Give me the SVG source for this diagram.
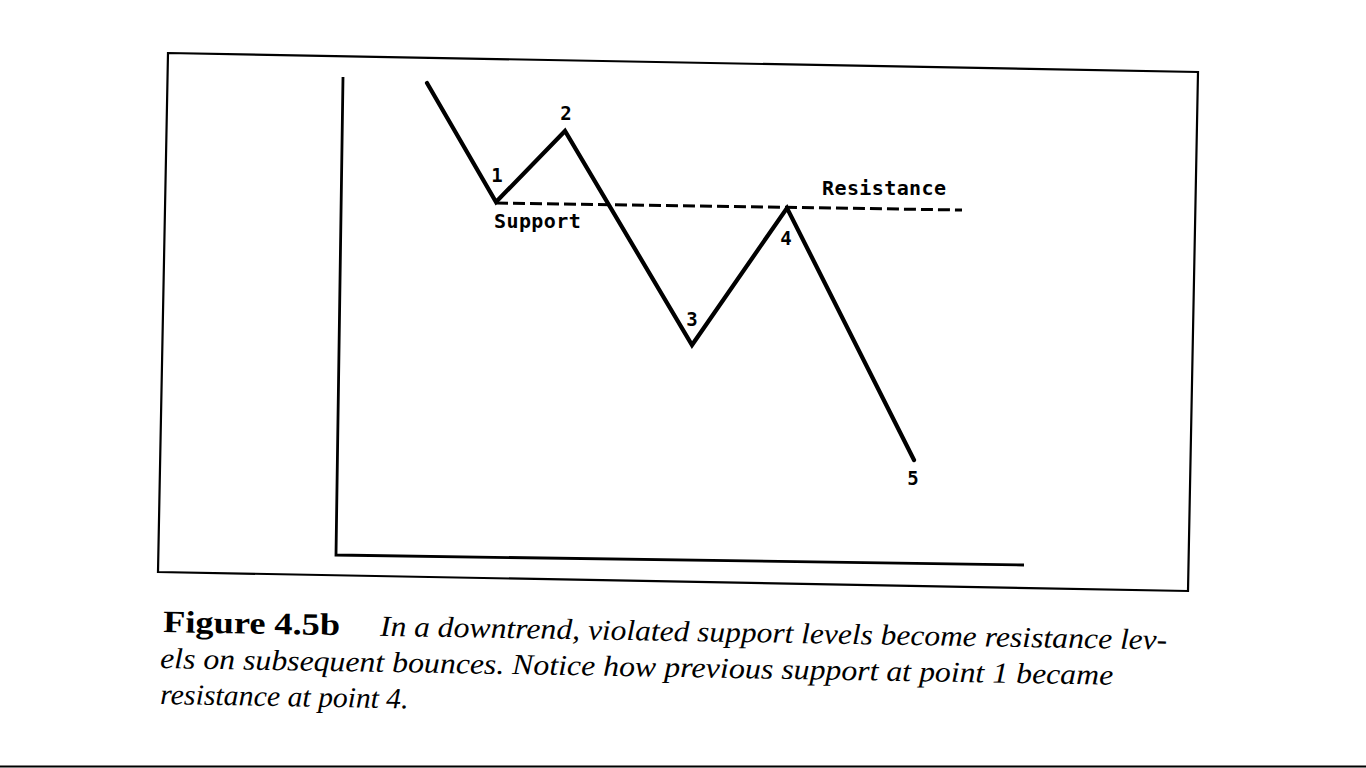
<svg xmlns="http://www.w3.org/2000/svg" width="1366" height="768" viewBox="0 0 1366 768">
<style>
.frame{fill:none;stroke:#000;stroke-width:2.2;stroke-linejoin:miter}
.axis{fill:none;stroke:#000;stroke-width:2.8;stroke-linecap:butt}
.price{fill:none;stroke:#000;stroke-width:4.2;stroke-linejoin:miter;stroke-linecap:round}
.level{fill:none;stroke:#000;stroke-width:3;stroke-dasharray:12 5}
.lbl{font-family:"DejaVu Sans Mono","Liberation Mono",monospace;font-size:20px;font-weight:bold;fill:#000;letter-spacing:0.4px}
.num{font-family:"DejaVu Sans Mono","Liberation Mono",monospace;font-size:19px;font-weight:bold;fill:#000;text-anchor:middle}
.capb{font-family:"Liberation Serif",serif;font-size:31px;font-weight:bold;fill:#000}
.capi{font-family:"Liberation Serif",serif;font-size:29px;font-style:italic;fill:#000}
</style>
<rect width="1366" height="768" fill="#fff"/>
<g id="frame">
<polygon class="frame" points="168,53 1198,72 1188,591 158,572"/>
</g>
<g id="axes">
<polyline class="axis" points="343,77 336,555 1024,565"/>
</g>
<g id="connectors">
<line id="support-resistance-level" class="level" x1="496" y1="203" x2="962" y2="210"/>
<polyline id="price-path" class="price" points="427,83 496,202 565,131 692,345 787,208 914,460"/>
</g>
<g id="label-1"><text class="num" x="497" y="182">1</text></g>
<g id="label-2"><text class="num" x="566" y="120">2</text></g>
<g id="label-3"><text class="num" x="692" y="326">3</text></g>
<g id="label-4"><text class="num" x="786" y="245">4</text></g>
<g id="label-5"><text class="num" x="913" y="485">5</text></g>
<g id="label-support"><text class="lbl" x="494" y="228">Support</text></g>
<g id="label-resistance"><text class="lbl" x="822" y="195">Resistance</text></g>
<g id="caption">
<text class="capb" x="163" y="632" transform="rotate(1 163 632)" textLength="177" lengthAdjust="spacingAndGlyphs">Figure 4.5b</text>
<text class="capi" x="380" y="635.8" transform="rotate(1 380 635.8)" textLength="26.2" lengthAdjust="spacingAndGlyphs">In</text>
<text class="capi" x="414.1" y="636.4" transform="rotate(1 414.1 636.4)" textLength="15.7" lengthAdjust="spacingAndGlyphs">a</text>
<text class="capi" x="437.6" y="636.8" transform="rotate(1 437.6 636.8)" textLength="142.4" lengthAdjust="spacingAndGlyphs">downtrend,</text>
<text class="capi" x="587.9" y="639.4" transform="rotate(1 587.9 639.4)" textLength="101.3" lengthAdjust="spacingAndGlyphs">violated</text>
<text class="capi" x="697.1" y="641.3" transform="rotate(1 697.1 641.3)" textLength="96.1" lengthAdjust="spacingAndGlyphs">support</text>
<text class="capi" x="801.1" y="643.2" transform="rotate(1 801.1 643.2)" textLength="71.6" lengthAdjust="spacingAndGlyphs">levels</text>
<text class="capi" x="880.6" y="644.5" transform="rotate(1 880.6 644.5)" textLength="96" lengthAdjust="spacingAndGlyphs">become</text>
<text class="capi" x="984.5" y="646.4" transform="rotate(1 984.5 646.4)" textLength="127.5" lengthAdjust="spacingAndGlyphs">resistance</text>
<text class="capi" x="1119.9" y="648.7" transform="rotate(1 1119.9 648.7)" textLength="47.1" lengthAdjust="spacingAndGlyphs">lev-</text>
<text class="capi" x="160" y="668" transform="rotate(1 160 668)" textLength="35.3" lengthAdjust="spacingAndGlyphs">els</text>
<text class="capi" x="203.2" y="668.75" transform="rotate(1 203.2 668.75)" textLength="31.8" lengthAdjust="spacingAndGlyphs">on</text>
<text class="capi" x="242.9" y="669.45" transform="rotate(1 242.9 669.45)" textLength="141.2" lengthAdjust="spacingAndGlyphs">subsequent</text>
<text class="capi" x="392.1" y="672.05" transform="rotate(1 392.1 672.05)" textLength="112.1" lengthAdjust="spacingAndGlyphs">bounces.</text>
<text class="capi" x="512.1" y="674.14" transform="rotate(1 512.1 674.14)" textLength="82.9" lengthAdjust="spacingAndGlyphs">Notice</text>
<text class="capi" x="603" y="675.73" transform="rotate(1 603 675.73)" textLength="53" lengthAdjust="spacingAndGlyphs">how</text>
<text class="capi" x="663.9" y="676.79" transform="rotate(1 663.9 676.79)" textLength="109.4" lengthAdjust="spacingAndGlyphs">previous</text>
<text class="capi" x="781.2" y="678.84" transform="rotate(1 781.2 678.84)" textLength="97.1" lengthAdjust="spacingAndGlyphs">support</text>
<text class="capi" x="886.2" y="680.67" transform="rotate(1 886.2 680.67)" textLength="24.7" lengthAdjust="spacingAndGlyphs">at</text>
<text class="capi" x="918.9" y="681.24" transform="rotate(1 918.9 681.24)" textLength="65.3" lengthAdjust="spacingAndGlyphs">point</text>
<text class="capi" x="992.2" y="682.52" transform="rotate(1 992.2 682.52)" textLength="15.9" lengthAdjust="spacingAndGlyphs">1</text>
<text class="capi" x="1016" y="682.94" transform="rotate(1 1016 682.94)" textLength="97" lengthAdjust="spacingAndGlyphs">became</text>
<text class="capi" x="160" y="704" transform="rotate(1 160 704)" textLength="120" lengthAdjust="spacingAndGlyphs">resistance</text>
<text class="capi" x="287.4" y="706.2" transform="rotate(1 287.4 706.2)" textLength="23" lengthAdjust="spacingAndGlyphs">at</text>
<text class="capi" x="317.9" y="706.8" transform="rotate(1 317.9 706.8)" textLength="60.9" lengthAdjust="spacingAndGlyphs">point</text>
<text class="capi" x="386.1" y="707.9" transform="rotate(1 386.1 707.9)" textLength="22.2" lengthAdjust="spacingAndGlyphs">4.</text>
</g>
<line x1="0" y1="766.5" x2="1366" y2="766.5" stroke="#000" stroke-width="2"/>
</svg>
